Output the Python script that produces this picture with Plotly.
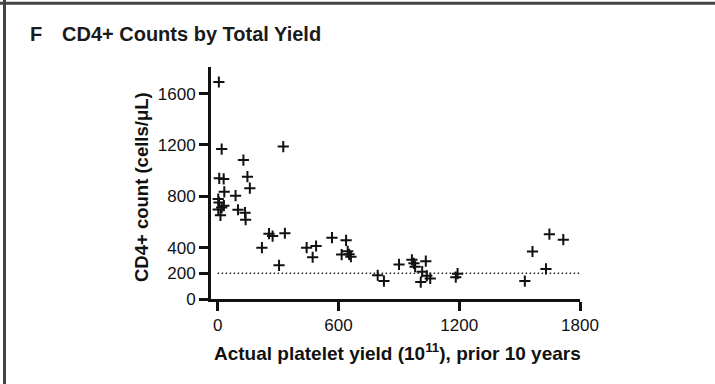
import plotly.graph_objects as go

# Platelet yield (10^11) over the prior 10 years and CD4+ counts (cells/uL)
platelet_yield = [6, 20, 8, 30, 33, 3, 7, 31, 20, 3, 14,
                  89, 101, 136, 139, 128, 148, 160,
                  220, 255, 273, 334, 305, 326,
                  442, 472, 489, 568, 638, 616, 646, 653, 662,
                  795, 826, 901, 965, 975, 981, 1034, 1016, 1039, 1056, 1009, 1183, 1192,
                  1526, 1564, 1631, 1648, 1717]
cd4_count = [1690, 1168, 940, 935, 835, 778, 752, 727, 712, 698, 652,
             805, 695, 672, 618, 1082, 953, 863,
             400, 509, 490, 512, 262, 1187,
             400, 325, 413, 478, 457, 346, 371, 348, 330,
             185, 140, 269, 305, 278, 252, 295, 213, 181, 160, 132, 170, 197,
             140, 370, 234, 505, 462]

x_ticks = [0, 600, 1200, 1800]
y_ticks = [0, 200, 400, 800, 1200, 1600]
threshold = 200

W, H = 715, 384
ML, MR, MT, MB = 211, 135, 67, 85
PW, PH = W - ML - MR, H - MT - MB


def px(xp):
    return (xp - ML) / PW


def py(yp):
    return (H - MB - yp) / PH


FONT = "Liberation Sans, Arial, sans-serif"
INK = "#111111"

fig = go.Figure()
fig.add_trace(go.Scatter(
    x=platelet_yield, y=cd4_count, mode="markers",
    marker=dict(symbol="cross-thin", size=8, line=dict(width=2, color=INK), color=INK),
    showlegend=False, hoverinfo="x+y",
))

shapes = [
    # reference line at 200 cells/uL
    dict(type="line", xref="x", yref="y", x0=0, x1=1800, y0=threshold, y1=threshold,
         line=dict(color="#222222", width=1.5, dash="1.5px,2.5px")),
    # panel frame (left and top edges)
    dict(type="line", xref="paper", yref="paper", x0=px(4.5), x1=px(4.5), y0=py(0), y1=py(H),
         line=dict(color="#444444", width=3)),
    dict(type="line", xref="paper", yref="paper", x0=px(0), x1=px(W), y0=py(3.3), y1=py(3.3),
         line=dict(color="#444444", width=3)),
]

annotations = [
    dict(text="<b>F</b>", xref="paper", yref="paper", x=px(28), y=py(34),
         xanchor="left", yanchor="middle", showarrow=False,
         font=dict(family=FONT, size=20, color="#1a1a1a")),
    dict(text="<b>CD4+ Counts by Total Yield</b>", xref="paper", yref="paper", x=px(60), y=py(34),
         xanchor="left", yanchor="middle", showarrow=False,
         font=dict(family=FONT, size=20, color="#1a1a1a")),
    dict(text="<b>Actual platelet yield (10<sup>11</sup>), prior 10 years</b>",
         xref="paper", yref="paper", x=px(397), y=py(352),
         xanchor="center", yanchor="middle", showarrow=False,
         font=dict(family=FONT, size=19, color=INK)),
    dict(text="<b>CD4+ count (cells/\u03bcL)</b>", xref="paper", yref="paper",
         x=px(141), y=py(187), textangle=-90,
         xanchor="center", yanchor="middle", showarrow=False,
         font=dict(family=FONT, size=18.5, color=INK)),
]

axis_common = dict(showgrid=False, zeroline=False, showline=True, linecolor=INK, linewidth=3,
                   ticks="outside", ticklen=9, tickwidth=3, tickcolor=INK,
                   tickfont=dict(family=FONT, size=17, color=INK))

fig.update_layout(
    width=W, height=H,
    margin=dict(l=ML, r=MR, t=MT, b=MB, pad=0),
    paper_bgcolor="white", plot_bgcolor="white",
    xaxis=dict(range=[-33, 1800], tickvals=x_ticks, **axis_common),
    yaxis=dict(range=[0, 1807], tickvals=y_ticks, **axis_common),
    shapes=shapes, annotations=annotations,
)

fig.write_html("out.html")
